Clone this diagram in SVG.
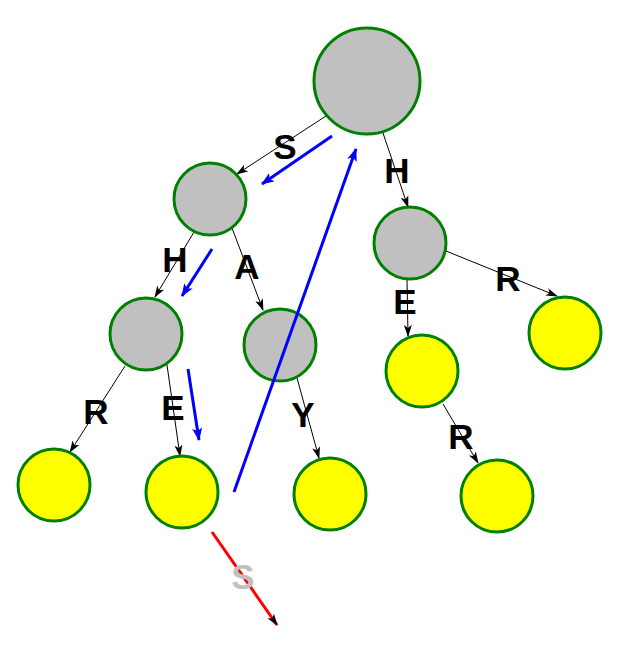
<svg xmlns="http://www.w3.org/2000/svg" width="631" height="653" viewBox="0 0 631 653">
<defs>
<style>
.inner{fill:#c0c0c0;stroke:#008000;stroke-width:3}
.leaf{fill:#ffff00;stroke:#008000;stroke-width:3}
.edge{stroke:#000;stroke-width:1;fill:none;marker-end:url(#ab)}
.trav{stroke:#0000ff;stroke-width:3;fill:none;marker-end:url(#au)}
.lbl{font-family:"Liberation Sans",Arial,sans-serif;font-weight:bold;font-size:35px;fill:#000;text-anchor:middle}
</style>
<marker id="ab" markerUnits="userSpaceOnUse" markerWidth="12" markerHeight="10" refX="11" refY="4" orient="auto" viewBox="0 0 12 8">
<path d="M0,0 L12,4 L0,8 L3,4 z" fill="#000"/>
</marker>
<marker id="au" markerUnits="userSpaceOnUse" markerWidth="13" markerHeight="10" refX="12" refY="5" orient="auto" viewBox="0 0 13 10">
<path d="M0,0 L13,5 L0,10 L3,5 z" fill="#0000ff"/>
</marker>
</defs>
<rect width="631" height="653" fill="#fff"/>
<g id="connectors">
<line class="edge" x1="326" y1="116" x2="237" y2="174"/>
<line class="edge" x1="383" y1="133" x2="408" y2="207"/>
<line class="edge" x1="194" y1="232" x2="155" y2="297"/>
<line class="edge" x1="232" y1="228" x2="263" y2="310"/>
<line class="edge" x1="125" y1="366" x2="70" y2="452"/>
<line class="edge" x1="167" y1="365" x2="180" y2="456"/>
<line class="edge" x1="297" y1="378" x2="319" y2="458"/>
<line class="edge" x1="446" y1="251" x2="557" y2="296"/>
<line class="edge" x1="407" y1="279" x2="408" y2="336"/>
<line class="edge" x1="443" y1="404" x2="478" y2="463"/>
<text class="lbl" x="285" y="159">S</text>
<text class="lbl" x="397" y="183">H</text>
<text class="lbl" x="175" y="272">H</text>
<text class="lbl" x="247" y="279">A</text>
<text class="lbl" x="96" y="424">R</text>
<text class="lbl" x="173" y="420">E</text>
<text class="lbl" x="303" y="427">Y</text>
<text class="lbl" x="508" y="291">R</text>
<text class="lbl" x="405" y="314">E</text>
<text class="lbl" x="461" y="449">R</text>
</g>
<g id="root"><circle class="inner" cx="367" cy="81" r="53"/></g>
<g id="n-s"><circle class="inner" cx="210" cy="199" r="36"/></g>
<g id="n-h"><circle class="inner" cx="410" cy="243" r="36"/></g>
<g id="n-sh"><circle class="inner" cx="146" cy="334" r="36"/></g>
<g id="n-sa"><circle class="inner" cx="280" cy="345" r="36"/></g>
<g id="n-shr"><circle class="leaf" cx="54" cy="485" r="36"/></g>
<g id="n-she"><circle class="leaf" cx="182" cy="492" r="36"/></g>
<g id="n-say"><circle class="leaf" cx="330" cy="494" r="36"/></g>
<g id="n-hr"><circle class="leaf" cx="565" cy="333" r="36"/></g>
<g id="n-he"><circle class="leaf" cx="422" cy="371" r="36"/></g>
<g id="n-her"><circle class="leaf" cx="497" cy="496" r="36"/></g>
<g id="traversal">
<line class="trav" x1="332" y1="136" x2="262" y2="184"/>
<line class="trav" x1="234" y1="492" x2="356" y2="149"/>
<line class="trav" x1="212" y1="249" x2="182" y2="296"/>
<line class="trav" x1="188" y1="369" x2="199" y2="440"/>
<line x1="212" y1="532" x2="277" y2="625" stroke="#ff0000" stroke-width="3" marker-end="url(#ab)"/>
<text class="lbl" x="243" y="589" style="fill:#c0c0c0">S</text>
</g>
</svg>
